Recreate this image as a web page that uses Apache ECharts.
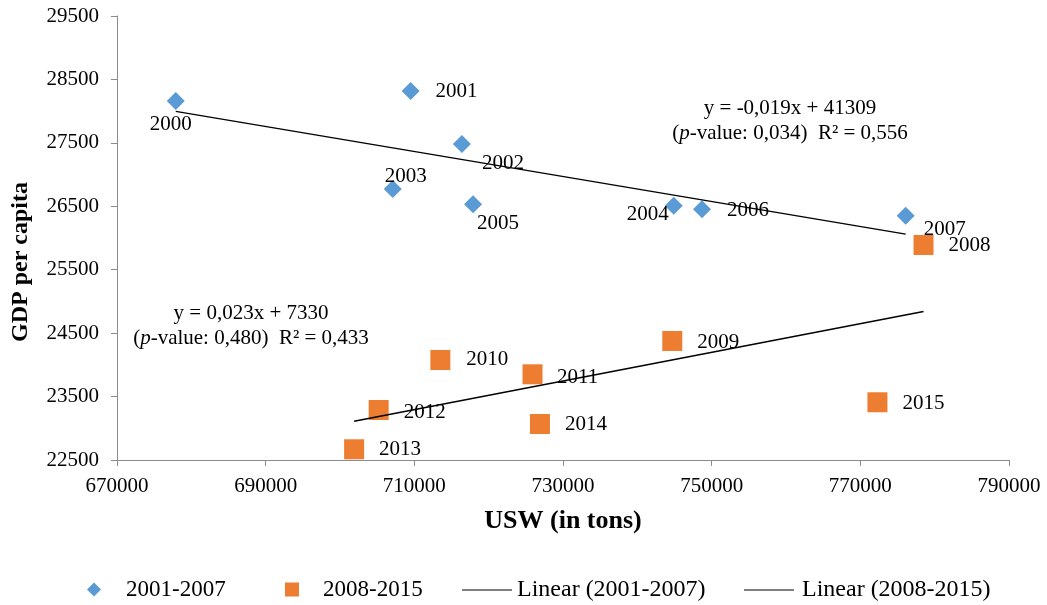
<!DOCTYPE html>
<html>
<head>
<meta charset="utf-8">
<script src="https://cdn.jsdelivr.net/npm/echarts@6/dist/echarts.min.js"></script>
<style>
  html, body { margin: 0; padding: 0; background: #fff; }
  #chart { width: 1047px; height: 605px; }
</style>
</head>
<body>
<div id="chart"></div>
<script>
// 2000-2007 (legend calls it 2001-2007)
const years1 = ['2000', '2001', '2002', '2003', '2004', '2005', '2006', '2007']
const usw1 = [677900, 709500, 716400, 707100, 744900, 717900, 748700, 776100]
const gdp1 = [28160, 28317, 27482, 26772, 26509, 26531, 26452, 26352]

// 2008-2015
const years2 = ['2008', '2009', '2010', '2011', '2012', '2013', '2014', '2015']
const usw2 = [778500, 744700, 713500, 725900, 705200, 701900, 726900, 772300]
const gdp2 = [25890, 24376, 24077, 23851, 23288, 22669, 23068, 23410]

const seriesNames = ['2001-2007', '2008-2015', 'Linear (2001-2007)', 'Linear (2008-2015)']

const eq1 = ['y = -0,019x + 41309', '({i|p}-value: 0,034)  R² = 0,556']
const eq2 = ['y = 0,023x + 7330', '({i|p}-value: 0,480)  R² = 0,433']

const FONT = '"Liberation Serif", "Times New Roman", serif'

// where each year label sits relative to its marker (px)
const labelOffset = {
  2000: [-5, 23], 2001: [46, 0], 2002: [41, 19], 2003: [13, -13],
  2004: [-26, 9], 2005: [25, 19], 2006: [46, 1], 2007: [39, 14],
  2008: [46, 1], 2009: [46, 1], 2010: [47, 0], 2011: [45, 3],
  2012: [46, 2], 2013: [46, 0], 2014: [46, 1], 2015: [46, 1],
}

function points(xs, ys, years) {
  return xs.map((x, i) => ({
    name: years[i],
    value: [x, ys[i]],
    label: {offset: labelOffset[years[i]]},
  }))
}

// least squares line, drawn between the smallest and largest x
function trend(xs, ys) {
  const n = xs.length
  const mx = xs.reduce((a, b) => a + b, 0) / n
  const my = ys.reduce((a, b) => a + b, 0) / n
  let sxy = 0, sxx = 0
  xs.forEach((x, i) => {
    sxy += (x - mx) * (ys[i] - my)
    sxx += (x - mx) * (x - mx)
  })
  const k = sxy / sxx
  const b = my - k * mx
  const x0 = Math.min(...xs)
  const x1 = Math.max(...xs)
  return [[x0, k * x0 + b], [x1, k * x1 + b]]
}

const labelStyle = {
  show: true,
  position: 'inside',
  formatter: '{b}',
  color: '#000',
  fontSize: 21,
  fontFamily: FONT,
  textBorderWidth: 0,
}

function eqText(lines, cx, cy) {
  const rich = {i: {fontStyle: 'italic', fontSize: 21, fontFamily: FONT, color: '#000'}}
  return lines.map((t, i) => ({
    type: 'text',
    x: cx,
    y: cy + i * 25,
    style: {
      text: t,
      rich,
      fill: '#000',
      fontSize: 21,
      fontFamily: FONT,
      align: 'center',
      verticalAlign: 'middle',
    },
  }))
}

// one legend per entry so marker and line keys can have their own sizes
function legendItem(name, left, w, h, pad, size, icon) {
  return {
    left,
    top: 578,
    padding: 0,
    itemWidth: w,
    itemHeight: h,
    textStyle: {fontSize: size, fontFamily: FONT, color: '#000', padding: [0, 0, 0, pad]},
    itemStyle: {borderWidth: 0},
    data: [icon ? {name, icon} : name],
  }
}

const LINE_ICON = 'path://M0,0L50,0L50,1L0,1Z'

const chart = echarts.init(document.getElementById('chart'))

const option = {
  animation: false,
  backgroundColor: '#fff',
  textStyle: {fontFamily: FONT},
  grid: {left: 117, right: 38, top: 16, bottom: 145, containLabel: false},
  xAxis: {
    type: 'value',
    min: 670000,
    max: 790000,
    interval: 20000,
    name: 'USW (in tons)',
    nameLocation: 'middle',
    nameGap: 48,
    nameTextStyle: {fontSize: 26, fontWeight: 'bold', fontFamily: FONT, color: '#000'},
    axisLine: {show: true, lineStyle: {color: '#8c8c8c', width: 1}},
    axisTick: {show: true, length: 6, lineStyle: {color: '#8c8c8c'}},
    axisLabel: {margin: 16, fontSize: 21, fontFamily: FONT, color: '#000', formatter: v => String(v)},
    splitLine: {show: false},
  },
  yAxis: {
    type: 'value',
    min: 22500,
    max: 29500,
    interval: 1000,
    name: 'GDP per capita',
    nameLocation: 'middle',
    nameGap: 84,
    nameTextStyle: {fontSize: 24, fontWeight: 'bold', fontFamily: FONT, color: '#000', padding: [0, 48, 0, 0]},
    axisLine: {show: true, lineStyle: {color: '#8c8c8c', width: 1}},
    axisTick: {show: true, length: 6, lineStyle: {color: '#8c8c8c'}},
    axisLabel: {margin: 18, fontSize: 21, fontFamily: FONT, color: '#000', formatter: v => String(v)},
    splitLine: {show: false},
  },
  legend: [
    legendItem(seriesNames[0], 87, 14, 14, 20, 23),
    legendItem(seriesNames[1], 285, 14, 14, 19, 23),
    legendItem(seriesNames[2], 462, 50, 2, 0, 24, LINE_ICON),
    legendItem(seriesNames[3], 744, 50, 2, 3, 24, LINE_ICON),
  ],
  series: [
    {
      name: seriesNames[0],
      type: 'scatter',
      symbol: 'diamond',
      symbolSize: 18,
      itemStyle: {color: '#5b9bd5', opacity: 1},
      label: labelStyle,
      emphasis: {disabled: true},
      data: points(usw1, gdp1, years1),
      z: 2,
    },
    {
      name: seriesNames[1],
      type: 'scatter',
      symbol: 'rect',
      symbolSize: 20,
      itemStyle: {color: '#ed7d31', opacity: 1},
      label: labelStyle,
      emphasis: {disabled: true},
      data: points(usw2, gdp2, years2),
      z: 2,
    },
    {
      name: seriesNames[2],
      type: 'line',
      symbol: 'none',
      lineStyle: {color: '#000', width: 1.5},
      itemStyle: {color: '#000'},
      emphasis: {disabled: true},
      data: trend(usw1, gdp1),
      z: 3,
    },
    {
      name: seriesNames[3],
      type: 'line',
      symbol: 'none',
      lineStyle: {color: '#000', width: 1.5},
      itemStyle: {color: '#000'},
      emphasis: {disabled: true},
      data: trend(usw2, gdp2),
      z: 3,
    },
  ],
  graphic: [
    ...eqText(eq1, 790, 108),
    ...eqText(eq2, 251, 313),
  ],
}

chart.setOption(option)
</script>
</body>
</html>
